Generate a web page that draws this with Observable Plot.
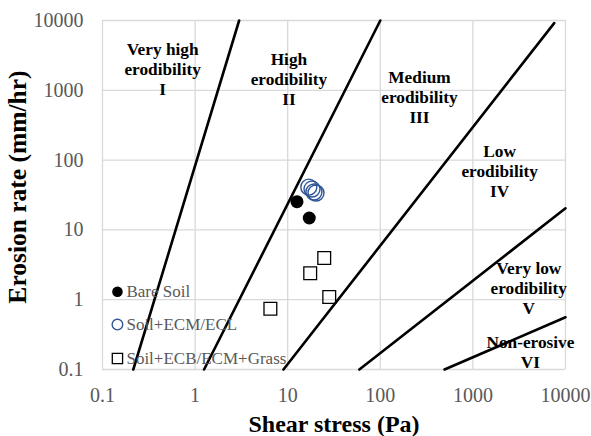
<!DOCTYPE html>
<html>
<head>
<meta charset="utf-8">
<script src="https://cdn.jsdelivr.net/npm/d3@7"></script>
<script src="https://cdn.jsdelivr.net/npm/@observablehq/plot@0.6"></script>
<style>
  html, body { margin: 0; padding: 0; background: #fff; }
  #chart svg { display: block; }
</style>
</head>
<body>
<div id="chart"></div>
<script>
// Tick values
const xTicks = [0.1, 1, 10, 100, 1000, 10000];
const yTicks = [0.1, 1, 10, 100, 1000, 10000];

// Erodibility category boundary lines (start and end points, data units)
const boundaryNames = ["I/II", "II/III", "III/IV", "IV/V", "V/VI"];
const boundaryX0 = [0.215, 1.25, 9.0, 59.4, 494];
const boundaryY0 = [0.1, 0.1, 0.1, 0.1, 0.1];
const boundaryX1 = [2.99, 100, 7550, 10000, 10000];
const boundaryY1 = [10000, 10000, 9170, 20.4, 0.56];

// Category labels
const categoryText = [
  "Very high\nerodibility\nI",
  "High\nerodibility\nII",
  "Medium\nerodibility\nIII",
  "Low\nerodibility\nIV",
  "Very low\nerodibility\nV",
  "Non-erosive\nVI"
];
const categoryX = [0.446, 10.3, 265, 1945, 4010, 4180];
const categoryY = [2060, 1484, 820, 70.3, 1.5, 0.181];

// Series
const bareSoilX = [12.6, 17.1];
const bareSoilY = [25.4, 14.8];
const ecmX = [16.9, 18.3, 19.2, 20.2];
const ecmY = [41, 38.5, 34.9, 33.8];
const grassX = [6.5, 17.5, 24.8, 28.1];
const grassY = [0.74, 2.4, 3.95, 1.09];

// Legend
const legendNames = ["Bare Soil", "Soil+ECM/ECL", "Soil+ECB/ECM+Grass"];
const legendX = [0.145, 0.145, 0.145];
const legendY = [1.3, 0.44, 0.144];

const lines = [];
boundaryNames.forEach((n, i) => {
  lines.push({name: n, x: boundaryX0[i], y: boundaryY0[i]});
  lines.push({name: n, x: boundaryX1[i], y: boundaryY1[i]});
});
const cats = categoryText.map((t, i) => ({t, x: categoryX[i], y: categoryY[i]}));
const bare = bareSoilX.map((x, i) => ({x, y: bareSoilY[i]}));
const ecm = ecmX.map((x, i) => ({x, y: ecmY[i]}));
const grass = grassX.map((x, i) => ({x, y: grassY[i]}));
const legend = legendNames.map((n, i) => ({n, x: legendX[i], y: legendY[i], i}));

const serif = "Liberation Serif";

const chart = Plot.plot({
  width: 591,
  height: 436,
  marginLeft: 102,
  marginRight: 26,
  marginTop: 20,
  marginBottom: 67,
  style: {fontFamily: serif, background: "#fff"},
  x: {type: "log", domain: [0.1, 10000]},
  y: {type: "log", domain: [0.1, 10000]},
  marks: [
    Plot.gridX(xTicks, {stroke: "#d9d9d9", strokeOpacity: 1, strokeWidth: 1.3}),
    Plot.gridY(yTicks, {stroke: "#d9d9d9", strokeOpacity: 1, strokeWidth: 1.3}),
    Plot.axisX(xTicks, {tickSize: 0, tickPadding: 18, fontSize: 20, fontFamily: serif, color: "#595959", label: null, tickFormat: d => String(d)}),
    Plot.axisY(yTicks, {tickSize: 0, tickPadding: 19, fontSize: 20, fontFamily: serif, color: "#595959", label: null, tickFormat: d => String(d)}),
    Plot.line(lines, {x: "x", y: "y", z: "name", stroke: "#000", strokeWidth: 2.6}),
    Plot.text(cats, {x: "x", y: "y", text: "t", fontSize: 17.3, fontFamily: serif, fontWeight: "bold", fill: "#000", lineHeight: 1.16, textAnchor: "middle", lineAnchor: "middle"}),
    Plot.dot(bare, {x: "x", y: "y", r: 6.5, fill: "#000", stroke: "none"}),
    Plot.dot(ecm, {x: "x", y: "y", r: 8, fill: "none", stroke: "#2f5597", strokeWidth: 1.4}),
    Plot.dot(grass, {x: "x", y: "y", r: 7.2, symbol: "square", fill: "none", stroke: "#000", strokeWidth: 1.3}),
    // Legend
    Plot.dot(legend.filter(d => d.i === 0), {x: "x", y: "y", r: 5.3, fill: "#000", stroke: "none"}),
    Plot.dot(legend.filter(d => d.i === 1), {x: "x", y: "y", r: 5.3, fill: "none", stroke: "#2f5597", strokeWidth: 1.4}),
    Plot.dot(legend.filter(d => d.i === 2), {x: "x", y: "y", r: 5.8, symbol: "square", fill: "none", stroke: "#000", strokeWidth: 1.3}),
    Plot.text(legend, {x: "x", y: "y", text: "n", dx: 9, textAnchor: "start", fontSize: 17, fontFamily: serif, fill: "#595959"}),
    // Axis titles
    Plot.text(["Shear stress (Pa)"], {frameAnchor: "bottom", textAnchor: "middle", lineAnchor: "middle", dy: 55, fontSize: 24, fontFamily: serif, fontWeight: "bold", fill: "#000"}),
    Plot.text(["Erosion rate (mm/hr)"], {frameAnchor: "left", textAnchor: "middle", lineAnchor: "middle", dx: -85, dy: -8, rotate: -90, fontSize: 25.5, fontFamily: serif, fontWeight: "bold", fill: "#000"})
  ]
});
document.getElementById("chart").appendChild(chart);
</script>
</body>
</html>
